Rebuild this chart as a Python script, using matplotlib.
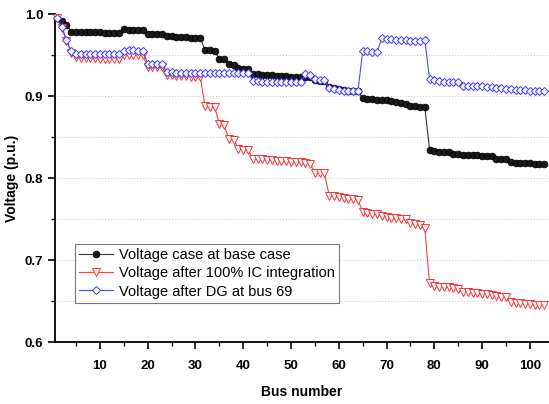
import numpy as np
import matplotlib
matplotlib.use("Agg")
import matplotlib.pyplot as plt
from matplotlib.ticker import MultipleLocator, FormatStrFormatter

plt.rcParams["font.family"] = ["Liberation Sans", "DejaVu Sans"]

# bus numbers 1..103
bus = np.arange(1, 104)

# base case voltage (p.u.)
v_base = [
    0.995, 0.992, 0.987,
    0.979, 0.979, 0.978, 0.978, 0.978, 0.978, 0.978, 0.977, 0.977, 0.977, 0.977,
    0.982, 0.981, 0.981, 0.981, 0.981,
    0.976, 0.976, 0.976, 0.976,
    0.973, 0.973, 0.972, 0.972, 0.972, 0.971, 0.971, 0.971,
    0.956, 0.956, 0.955,
    0.946, 0.945,
    0.939, 0.938,
    0.934, 0.933, 0.933,
    0.927, 0.927, 0.926, 0.926, 0.926, 0.925, 0.925, 0.925, 0.924, 0.924, 0.924,
    0.923, 0.923,
    0.920, 0.919, 0.919,
    0.911, 0.910, 0.909, 0.908, 0.907, 0.906, 0.906,
    0.898, 0.897, 0.897, 0.896, 0.895, 0.895, 0.894, 0.893, 0.892, 0.891,
    0.888, 0.888, 0.887, 0.887,
    0.835,
    0.833, 0.832, 0.832, 0.832,
    0.830, 0.830,
    0.829, 0.828, 0.828, 0.828, 0.827, 0.827, 0.827,
    0.824, 0.824, 0.824,
    0.820, 0.819, 0.819, 0.819, 0.819, 0.818, 0.818, 0.818,
]

# after 100% IC integration
v_ic = [
    0.995, 0.983, 0.968,
    0.953, 0.948, 0.947, 0.947, 0.947, 0.947, 0.946, 0.946, 0.946, 0.946, 0.946,
    0.950, 0.950, 0.950, 0.950, 0.950,
    0.936, 0.936, 0.936, 0.936,
    0.926, 0.926, 0.925, 0.925, 0.925, 0.924, 0.924, 0.924,
    0.888, 0.887, 0.887,
    0.866, 0.865,
    0.848, 0.847,
    0.836, 0.835, 0.835,
    0.824, 0.823, 0.823, 0.822, 0.822, 0.821, 0.821, 0.821, 0.820, 0.820, 0.820,
    0.819, 0.818,
    0.807, 0.806, 0.806,
    0.779, 0.778, 0.777, 0.776, 0.775, 0.775, 0.774,
    0.759, 0.758, 0.757, 0.756,
    0.754, 0.753, 0.752, 0.751, 0.750, 0.750,
    0.745, 0.744, 0.743, 0.739,
    0.672,
    0.669, 0.668, 0.667, 0.667, 0.666, 0.665,
    0.661, 0.661, 0.660, 0.660, 0.659, 0.659, 0.658,
    0.656, 0.655, 0.655,
    0.649, 0.648, 0.648, 0.647, 0.647, 0.646, 0.645, 0.645,
]

# after DG at bus 69
v_dg = [
    0.995, 0.985, 0.969,
    0.955, 0.952, 0.952, 0.952, 0.952, 0.952, 0.952, 0.952, 0.952, 0.952, 0.952,
    0.955, 0.956, 0.956, 0.955, 0.955,
    0.940, 0.940, 0.939, 0.939,
    0.930, 0.930, 0.929, 0.929, 0.929, 0.929, 0.929, 0.929,
    0.929, 0.929, 0.929, 0.929, 0.929, 0.929, 0.929, 0.929, 0.929, 0.929,
    0.919, 0.919, 0.918, 0.918, 0.918, 0.918, 0.917, 0.917, 0.917, 0.917, 0.917,
    0.927, 0.926,
    0.921, 0.920, 0.920,
    0.910, 0.909, 0.908, 0.907, 0.907, 0.906, 0.906,
    0.955, 0.955, 0.954, 0.954,
    0.971, 0.970, 0.970, 0.969, 0.969, 0.969, 0.968, 0.968, 0.968, 0.969,
    0.921, 0.920, 0.919, 0.918, 0.918, 0.917, 0.917,
    0.913, 0.913, 0.912, 0.912, 0.912, 0.911, 0.911,
    0.910, 0.910, 0.909, 0.909, 0.908, 0.908, 0.908, 0.907, 0.907, 0.907, 0.906,
]

labels = ["Voltage case at base case",
          "Voltage after 100% IC integration",
          "Voltage after DG at bus 69"]

fig = plt.figure(figsize=(5.49, 4.04), dpi=100)
ax = fig.add_axes([0.1002, 0.1527, 0.8998, 0.8119])

ax.plot(bus, v_base, color="#333333", lw=0.8, marker="o", ms=4.8,
        mfc="#1a1a1a", mec="black", mew=0.6, label=labels[0], clip_on=False, zorder=3)
ax.plot(bus, v_ic, color="#ff4040", lw=0.8, marker="v", ms=5.4,
        mfc="white", mec="#ff3030", mew=0.7, label=labels[1], clip_on=False, zorder=4)
ax.plot(bus, v_dg, color="#4a4aff", lw=0.8, marker="D", ms=4.4,
        mfc="white", mec="#3a3aff", mew=0.7, label=labels[2], clip_on=False, zorder=5)

ax.set_xlim(0.6, 104)
ax.set_ylim(0.6, 1.0)

ax.xaxis.set_major_locator(MultipleLocator(10))
ax.xaxis.set_minor_locator(MultipleLocator(5))
ax.yaxis.set_major_locator(MultipleLocator(0.1))
ax.yaxis.set_minor_locator(MultipleLocator(0.05))
ax.yaxis.set_major_formatter(FormatStrFormatter("%.1f"))
ax.set_xticks([10, 20, 30, 40, 50, 60, 70, 80, 90, 100])

for y in np.arange(0.65, 1.0, 0.05):
    ax.axhline(y, color="#c8c8c8", lw=0.7, ls=(0, (1, 2)), zorder=0)

for s in ["top", "right"]:
    ax.spines[s].set_visible(False)
for s in ["left", "bottom"]:
    ax.spines[s].set_linewidth(1.3)

ax.tick_params(which="major", direction="out", length=5, width=1.2, labelsize=9.5)
ax.tick_params(which="minor", direction="out", length=3, width=1.0)
ax.tick_params(axis="x", which="major", pad=8)
for t in ax.get_xticklabels() + ax.get_yticklabels():
    t.set_fontweight("bold")

ax.set_xlabel("Bus number", fontsize=10, fontweight="bold", labelpad=9)
ax.set_ylabel("Voltage (p.u.)", fontsize=10, fontweight="bold", labelpad=4)

leg = ax.legend(loc="lower left", bbox_to_anchor=(0.04, 0.12), borderaxespad=0,
                fontsize=10.5, frameon=True, fancybox=False, edgecolor="#555555",
                handlelength=2.3, handletextpad=0.4, borderpad=0.3,
                labelspacing=0.28)
leg.get_frame().set_linewidth(0.8)

fig.savefig("out.png", dpi=100)
